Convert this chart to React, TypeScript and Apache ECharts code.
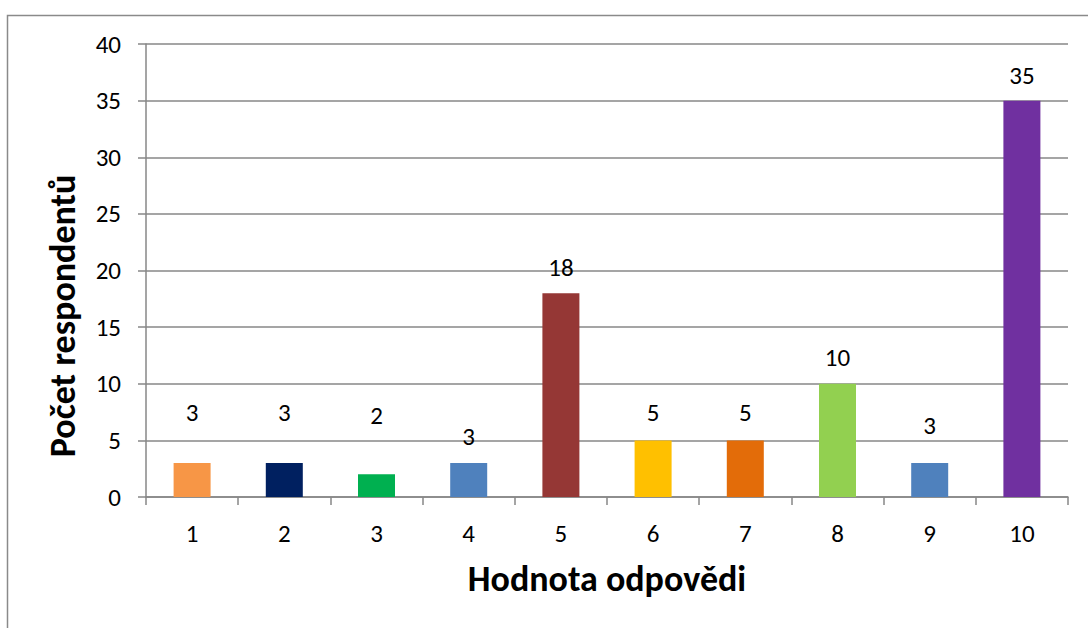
import React, { useEffect, useRef } from "react";
import * as echarts from "echarts";

const categories = ["1", "2", "3", "4", "5", "6", "7", "8", "9", "10"];
const values = [3, 3, 2, 3, 18, 5, 5, 10, 3, 35];
const barColors = [
  "#F79646",
  "#002060",
  "#00B050",
  "#4F81BD",
  "#953735",
  "#FFC000",
  "#E36C09",
  "#92D050",
  "#4F81BD",
  "#7030A0",
];
const yTicks = [0, 5, 10, 15, 20, 25, 30, 35, 40];
const xTitle = "Hodnota odpovědi";
const yTitle = "Počet respondentů";

// label distances above bar tops (Excel manually placed labels)
const labelDistances = [38, 38, 46, 14, 13, 15, 15, 14, 25, 13];

const FONT = "Carlito, Calibri, 'Open Sans', sans-serif";
const GRAY = "#878787";
const TICK_SIZE = 25;
const TITLE_SIZE = 36;

export default function App() {
  const ref = useRef<HTMLDivElement>(null);
  useEffect(() => {
    document.body.style.margin = "0";
    const chart = echarts.init(ref.current!, null, { renderer: "svg" });
    chart.setOption({
      animation: false,
      backgroundColor: "#ffffff",
      textStyle: { fontFamily: FONT },
      graphic: [
        {
          type: "rect",
          shape: { x: 7.5, y: 15.5, width: 1200, height: 800 },
          style: { fill: "none", stroke: "#8a8a8a", lineWidth: 1.5 },
          silent: true,
        },
        {
          type: "text",
          x: 63,
          y: 316,
          rotation: Math.PI / 2,
          style: {
            text: yTitle,
            align: "center",
            verticalAlign: "middle",
            fontSize: TITLE_SIZE,
            fontWeight: "bold",
            fontFamily: FONT,
            fill: "#000",
          },
          silent: true,
        },
      ],
      grid: { left: 146, top: 44, right: 20, bottom: 131 },
      xAxis: {
        type: "category",
        data: categories,
        name: xTitle,
        nameLocation: "middle",
        nameGap: 64,
        nameTextStyle: { fontSize: TITLE_SIZE, fontWeight: "bold", color: "#000", fontFamily: FONT },
        axisLine: { lineStyle: { color: GRAY, width: 1.5 } },
        axisTick: { show: true, length: 8, lineStyle: { color: GRAY, width: 1.5 } },
        axisLabel: { fontSize: TICK_SIZE, color: "#000", margin: 24, fontFamily: FONT },
      },
      yAxis: {
        type: "value",
        min: yTicks[0],
        max: yTicks[yTicks.length - 1],
        interval: yTicks[1] - yTicks[0],
        axisLine: { show: true, lineStyle: { color: GRAY, width: 1.5 } },
        axisTick: { show: true, length: 8, lineStyle: { color: GRAY, width: 1.5 } },
        axisLabel: { fontSize: TICK_SIZE, color: "#000", margin: 25, fontFamily: FONT },
        splitLine: { show: true, lineStyle: { color: GRAY, width: 1.5 } },
      },
      series: [
        {
          type: "bar",
          barWidth: 37,
          data: values.map((v, i) => ({
            value: v,
            itemStyle: { color: barColors[i] },
            label: {
              show: true,
              position: "top",
              distance: labelDistances[i],
              fontSize: TICK_SIZE,
              color: "#000",
              fontFamily: FONT,
            },
          })),
        },
      ],
    });
    return () => chart.dispose();
  }, []);
  return <div ref={ref} style={{ width: 1088, height: 628 }} />;
}
